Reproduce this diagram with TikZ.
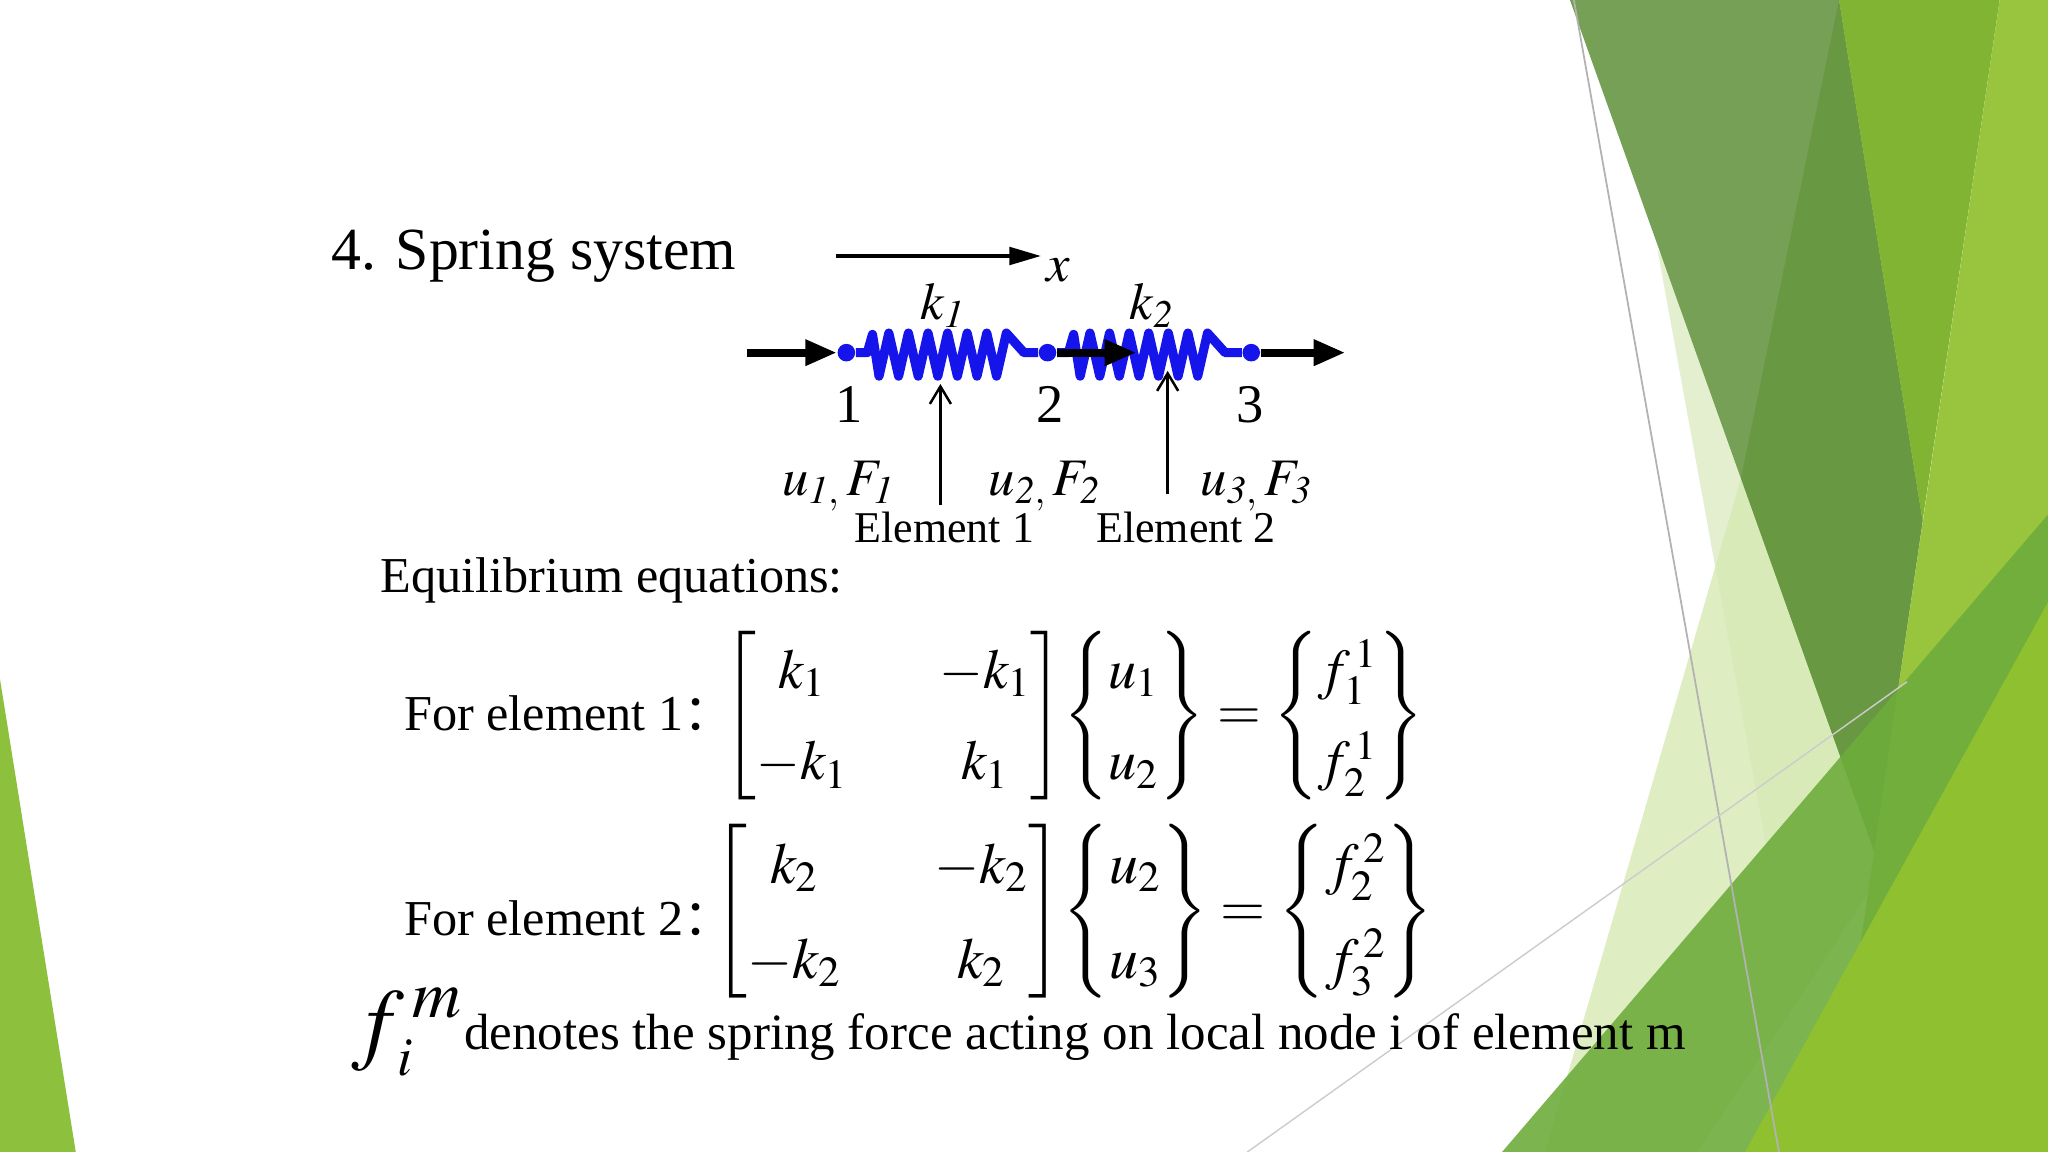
\documentclass[tikz,border=0pt]{standalone}
\usepackage{mathptmx}
\usepackage{amsmath}
\usepackage{fontspec}
\setmainfont{Liberation Serif}
\newfontfamily\cjk{Noto Sans CJK SC}
\usetikzlibrary{arrows.meta}
\definecolor{sprblue}{RGB}{20,20,235}
\begin{document}
\begin{tikzpicture}[x=0.013061cm,y=-0.013061cm,
  txt/.style={inner sep=0pt,anchor=west},
  lab/.style={inner sep=0pt},
  thick arr/.style={line width=2.2pt,-{Triangle[length=9pt,width=7pt]}},
  thin arr/.style={line width=0.7pt,-{Straight Barb[length=5pt,width=6pt]}},
  spr/.style={sprblue,line width=2.6pt,line join=round},
  dot/.style={circle,fill=sprblue,inner sep=0pt,minimum size=5pt}]
\useasboundingbox (0,0) rectangle (1568,882);
\fill[white] (0,0) rectangle (1568,882);
% background decoration
\fill[color={rgb,255:red,141;green,192;blue,60}] (0,520) -- (58,882) -- (0,882) -- cycle;
\fill[color={rgb,255:red,228;green,239;blue,207}] (1269,191) -- (1499,579) -- (1352,647) -- cycle;
\fill[color={rgb,255:red,215;green,233;blue,180},opacity=0.8] (1333,366) -- (1499,579) -- (1300,882) -- (1183,882) -- cycle;
\fill[color={rgb,255:red,117;green,160;blue,85}] (1202,0) -- (1408,0) -- (1472,399) -- (1435,652) -- cycle;
\fill[color={rgb,255:red,105;green,152;blue,66}] (1333,366) -- (1408,0) -- (1472,399) -- (1435,652) -- cycle;
\fill[color={rgb,255:red,128;green,180;blue,50}] (1408,0) -- (1531,0) -- (1472,399) -- cycle;
\fill[color={rgb,255:red,152;green,196;blue,62}] (1531,0) -- (1568,0) -- (1568,882) -- (1401,882) -- cycle;
\fill[color={rgb,255:red,110;green,172;blue,60},opacity=0.9] (1150,882) -- (1568,394) -- (1568,882) -- cycle;
\fill[color={rgb,255:red,143;green,192;blue,48}] (1336,882) -- (1568,461) -- (1568,882) -- cycle;
\draw[gray!60,line width=0.5pt] (1205,0) -- (1362,882);
\draw[gray!40,line width=0.4pt] (955,882) -- (1460,522);
% title
\node[txt,font=\fontsize{17}{20}\selectfont] (title) at (253,196) {4. Spring system};
% x axis
\coordinate (xa) at (640,196);
\coordinate (xb) at (797,196);
\draw[line width=1pt,-{Triangle[length=9pt,width=5pt]}] (xa) -- (xb);
\node[lab,font=\fontsize{15}{18}\selectfont] (xl) at (810,207) {$x$};
% nodes
\node[dot] (n1) at (648,270) {};
\node[dot] (n2) at (802,270) {};
\node[dot] (n3) at (958,270) {};
\coordinate (la) at (572,270);
\coordinate (ra) at (1030,270);
\coordinate (ma) at (870,270);
\draw[thick arr] (la) -- (n1);
% springs
\draw[spr] (n1) -- (664,270) -- (668,256)
  \foreach \i in {0,...,6} { -- ({673+\i*15},288) -- ({680.5+\i*15},255) } -- (784,270) -- (n2);
\draw[spr] (n2) -- (818,270) -- (822,256)
  \foreach \i in {0,...,6} { -- ({827+\i*15},288) -- ({834.5+\i*15},255) } -- (938,270) -- (n3);
\draw[thick arr] (n2) -- (ma);
\draw[thick arr] (n3) -- (ra);
\node[lab,font=\fontsize{15}{18}\selectfont] (k1) at (722,234) {$k_{\mathit{1}}$};
\node[lab,font=\fontsize{15}{18}\selectfont] (k2) at (882,234) {$k_{\mathit{2}}$};
\node[lab,font=\fontsize{15.5}{18}\selectfont] (l1) at (650,310) {1};
\node[lab,font=\fontsize{15.5}{18}\selectfont] (l2) at (804,310) {2};
\node[lab,font=\fontsize{15.5}{18}\selectfont] (l3) at (957,310) {3};
\coordinate (e1b) at (720,387); \coordinate (e1t) at (720,294);
\coordinate (e2b) at (894,378); \coordinate (e2t) at (894,284);
\draw[thin arr] (e1b) -- (e1t);
\draw[thin arr] (e2b) -- (e2t);
\node[lab,font=\fontsize{15}{18}\selectfont] (uf1) at (642,372) {$u_{\mathit{1},}\,F_{\mathit{1}}$};
\node[lab,font=\fontsize{15}{18}\selectfont] (uf2) at (800,372) {$u_{\mathit{2},}\,F_{\mathit{2}}$};
\node[lab,font=\fontsize{15}{18}\selectfont] (uf3) at (962,372) {$u_{\mathit{3},}\,F_{\mathit{3}}$};
\node[lab,font=\fontsize{12.5}{15}\selectfont] (el1) at (723,404) {Element 1};
\node[lab,font=\fontsize{12.5}{15}\selectfont] (el2) at (908,404) {Element 2};
% equations
\node[txt,font=\fontsize{14.3}{17}\selectfont] (eq) at (291,444) {Equilibrium equations:};
\node[txt,font=\fontsize{14.3}{17}\selectfont] (fe1) at (309,546) {For element 1{\cjk ：}};
\node[txt,font=\fontsize{14.3}{17}\selectfont] (fe2) at (309,703) {For element 2{\cjk ：}};
\node[lab,font=\fontsize{16}{20}\selectfont] (m1) at (822,548)
 {\renewcommand{\arraystretch}{1.3}$\left[\begin{matrix} k_1 & \quad-k_1\\ -k_1 & \quad k_1\end{matrix}\right]\!\left\{\begin{matrix}u_1\\u_2\end{matrix}\right\}=\left\{\begin{matrix}f_1^{\,1}\\f_2^{\,1}\end{matrix}\right\}$};
\node[lab,font=\fontsize{16.5}{20}\selectfont] (m2) at (822,698)
 {\renewcommand{\arraystretch}{1.35}$\left[\begin{matrix} k_2 & \quad-k_2\\ -k_2 & \quad k_2\end{matrix}\right]\!\left\{\begin{matrix}u_2\\u_3\end{matrix}\right\}=\left\{\begin{matrix}f_2^{\,2}\\f_3^{\,2}\end{matrix}\right\}$};
% bottom line
\node[lab,font=\fontsize{26}{30}\selectfont] (fim) at (312,790) {$\boldsymbol{f}_{\!\scriptscriptstyle i}^{\,m}$};
\node[txt,font=\fontsize{14.5}{17}\selectfont] (den) at (355,794) {denotes the spring force acting on local node i of element m};
\end{tikzpicture}
\end{document}
